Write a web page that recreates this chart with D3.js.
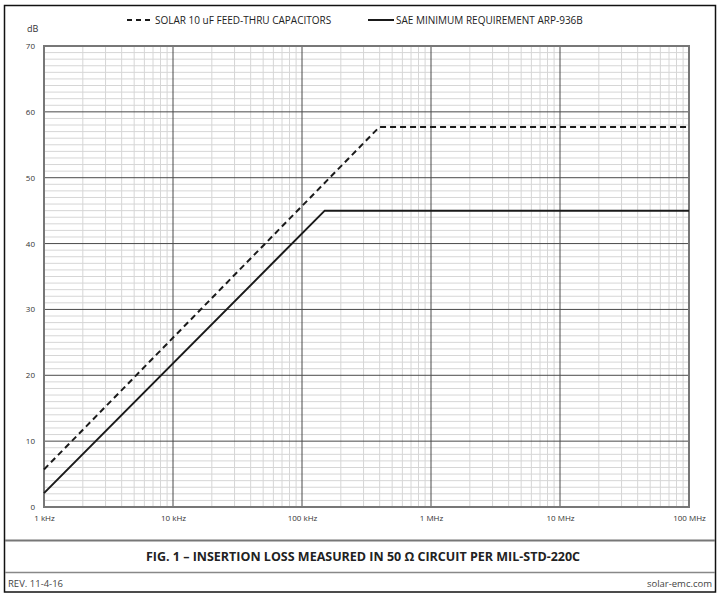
<!DOCTYPE html>
<html>
<head>
<meta charset="utf-8">
<script src="https://cdn.jsdelivr.net/npm/d3@7"></script>
<style>
  body { margin: 0; background: #fff; }
  svg { display: block; }
</style>
</head>
<body>
<script>
// decade tick labels on the frequency axis
const freqTicks = [1e3, 1e4, 1e5, 1e6, 1e7, 1e8];
const freqLabels = ["1 kHz", "10 kHz", "100 kHz", "1 MHz", "10 MHz", "100 MHz"];
const dbTicks = [0, 10, 20, 30, 40, 50, 60, 70];

// series (Hz, dB)
const solarFreq = [1e3, 398e3, 100e6];
const solarDb = [5.7, 57.7, 57.7];
const saeFreq = [1e3, 150e3, 100e6];
const saeDb = [2.1, 45, 45];

const width = 726, height = 597;
const margin = { left: 44, right: 37, top: 46, bottom: 90 };

const svg = d3.select("body").append("svg")
  .attr("width", width)
  .attr("height", height);

const x = d3.scaleLog().domain([1e3, 1e8]).range([margin.left, width - margin.right]);
const y = d3.scaleLinear().domain([0, 70]).range([height - margin.bottom, margin.top]);

const font = "'Liberation Sans Narrow', 'Open Sans', 'DejaVu Sans Condensed', sans-serif";

// outer frame
svg.append("rect")
  .attr("x", 4.5).attr("y", 5.5)
  .attr("width", 711).attr("height", 586.5)
  .attr("fill", "none").attr("stroke", "#111").attr("stroke-width", 1.5);

// grid
const grid = svg.append("g");
const minorX = [];
for (let d = 3; d < 8; d++) for (let m = 2; m <= 9; m++) minorX.push(m * Math.pow(10, d));
const minorY = d3.range(1, 70).filter(v => v % 10 !== 0);

grid.selectAll(".mx").data(minorX).enter().append("line")
  .attr("x1", d => x(d)).attr("x2", d => x(d))
  .attr("y1", y(0)).attr("y2", y(70))
  .attr("stroke", "#d6d6d6").attr("stroke-width", 1);
grid.selectAll(".my").data(minorY).enter().append("line")
  .attr("x1", x(1e3)).attr("x2", x(1e8))
  .attr("y1", d => y(d)).attr("y2", d => y(d))
  .attr("stroke", "#d6d6d6").attr("stroke-width", 1);
grid.selectAll(".Mx").data(freqTicks).enter().append("line")
  .attr("x1", d => x(d)).attr("x2", d => x(d))
  .attr("y1", y(0)).attr("y2", y(70))
  .attr("stroke", "#4a4a4a").attr("stroke-width", 1);
grid.selectAll(".My").data(dbTicks).enter().append("line")
  .attr("x1", x(1e3)).attr("x2", x(1e8))
  .attr("y1", d => y(d)).attr("y2", d => y(d))
  .attr("stroke", "#4a4a4a").attr("stroke-width", 1);

// plot border
svg.append("rect")
  .attr("x", x(1e3)).attr("y", y(70))
  .attr("width", x(1e8) - x(1e3)).attr("height", y(0) - y(70))
  .attr("fill", "none").attr("stroke", "#777").attr("stroke-width", 2);

// axes (labels only)
const xAxis = d3.axisBottom(x).tickValues(freqTicks)
  .tickFormat((d, i) => freqLabels[i]).tickSize(0).tickPadding(8);
svg.append("g").attr("transform", `translate(0,${y(0)})`).call(xAxis)
  .call(g => g.select(".domain").remove())
  .selectAll("text").attr("font-family", font).attr("font-size", 8).attr("fill", "#333");

const yAxis = d3.axisLeft(y).tickValues(dbTicks).tickSize(0).tickPadding(9);
svg.append("g").attr("transform", `translate(${x(1e3)},0)`).call(yAxis)
  .call(g => g.select(".domain").remove())
  .selectAll("text").attr("font-family", font).attr("font-size", 8).attr("fill", "#333");

svg.append("text").attr("x", 27).attr("y", 32)
  .attr("font-family", font).attr("font-size", 9).attr("fill", "#333").text("dB");

// series
const line = d3.line().x(d => x(d[0])).y(d => y(d[1]));
svg.append("path").datum(d3.zip(saeFreq, saeDb))
  .attr("d", line).attr("fill", "none")
  .attr("stroke", "#1a1a1a").attr("stroke-width", 2);
svg.append("path").datum(d3.zip(solarFreq, solarDb))
  .attr("d", line).attr("fill", "none")
  .attr("stroke", "#1a1a1a").attr("stroke-width", 2)
  .attr("stroke-dasharray", "6,4");

// legend
const legend = svg.append("g").attr("font-family", font).attr("font-size", 10).attr("fill", "#222");
legend.append("line").attr("x1", 127).attr("x2", 153).attr("y1", 20).attr("y2", 20)
  .attr("stroke", "#1a1a1a").attr("stroke-width", 2).attr("stroke-dasharray", "5,4");
legend.append("text").attr("x", 155).attr("y", 23.5).text("SOLAR 10 uF FEED-THRU CAPACITORS");
legend.append("line").attr("x1", 368).attr("x2", 394).attr("y1", 20).attr("y2", 20)
  .attr("stroke", "#1a1a1a").attr("stroke-width", 2);
legend.append("text").attr("x", 396).attr("y", 23.5).text("SAE MINIMUM REQUIREMENT ARP-936B");

// caption box separators
svg.append("line").attr("x1", 5).attr("x2", 715).attr("y1", 540.5).attr("y2", 540.5)
  .attr("stroke", "#777").attr("stroke-width", 2);
svg.append("line").attr("x1", 5).attr("x2", 715).attr("y1", 572.5).attr("y2", 572.5)
  .attr("stroke", "#888").attr("stroke-width", 1.5);

svg.append("text").attr("x", 363).attr("y", 561)
  .attr("text-anchor", "middle").attr("font-family", font)
  .attr("font-size", 12.5).attr("font-weight", "bold").attr("fill", "#222")
  .text("FIG. 1 – INSERTION LOSS MEASURED IN 50 Ω CIRCUIT PER MIL-STD-220C");

svg.append("text").attr("x", 8).attr("y", 587)
  .attr("font-family", font).attr("font-size", 9.5).attr("fill", "#444").text("REV. 11-4-16");
svg.append("text").attr("x", 712).attr("y", 587).attr("text-anchor", "end")
  .attr("font-family", font).attr("font-size", 9.5).attr("fill", "#444").text("solar-emc.com");
</script>
</body>
</html>
